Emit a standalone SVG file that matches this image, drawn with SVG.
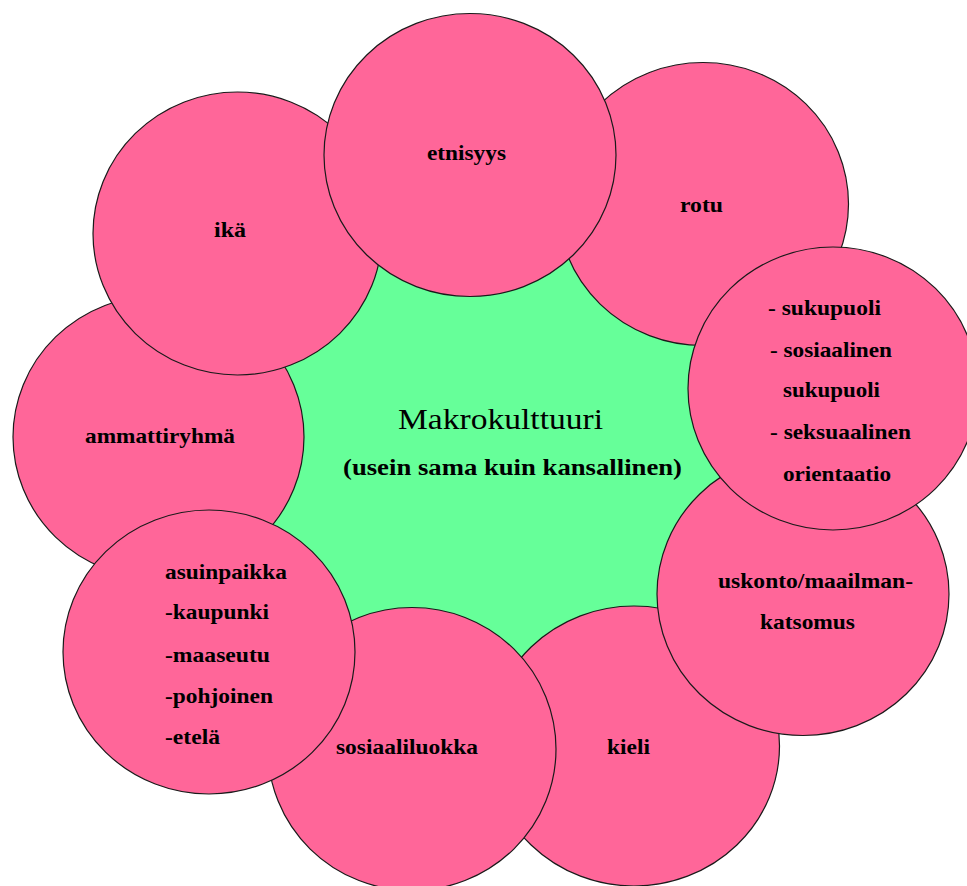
<svg xmlns="http://www.w3.org/2000/svg" width="967" height="886" viewBox="0 0 967 886">
<style>
.c{fill:#FF6699;stroke:#1a1a1a;stroke-width:1.2}
.t{font-family:"Liberation Serif","Times New Roman",serif;font-weight:bold;font-size:21px;fill:#000}
.m{font-family:"Liberation Serif","Times New Roman",serif;font-size:29px;fill:#000}
</style>
<rect width="967" height="886" fill="#fff"/>
<g id="center">
<polygon points="470,155 703,204 833,388 803,594 634,746 412,749 209,652 158,437 237,233" fill="#66FF99"/>
</g>
<g id="connectors"></g>
<g id="rotu"><ellipse class="c" cx="703" cy="204" rx="145.5" ry="141.5"/><text class="t" x="680" y="212" textLength="43" lengthAdjust="spacingAndGlyphs">rotu</text></g>
<g id="kieli"><ellipse class="c" cx="634" cy="746" rx="145.5" ry="140"/><text class="t" x="607" y="754" textLength="43" lengthAdjust="spacingAndGlyphs">kieli</text></g>
<g id="ammattiryhma"><ellipse class="c" cx="158.5" cy="437" rx="145.5" ry="141.5"/><text class="t" x="85" y="443" textLength="150" lengthAdjust="spacingAndGlyphs">ammattiryhmä</text></g>
<g id="ika"><ellipse class="c" cx="237.5" cy="233.5" rx="144.5" ry="141.5"/><text class="t" x="214" y="237" textLength="32" lengthAdjust="spacingAndGlyphs">ikä</text></g>
<g id="etnisyys"><ellipse class="c" cx="470" cy="155" rx="146" ry="141.5"/><text class="t" x="427" y="160" textLength="79" lengthAdjust="spacingAndGlyphs">etnisyys</text></g>
<g id="uskonto"><ellipse class="c" cx="803" cy="594" rx="146" ry="141.5"/>
<text class="t" x="718" y="588" textLength="195" lengthAdjust="spacingAndGlyphs">uskonto/maailman-</text>
<text class="t" x="760" y="629" textLength="95" lengthAdjust="spacingAndGlyphs">katsomus</text></g>
<g id="sukupuoli"><ellipse class="c" cx="833" cy="388.5" rx="145" ry="141.5"/>
<text class="t" x="768" y="315" textLength="113" lengthAdjust="spacingAndGlyphs">- sukupuoli</text>
<text class="t" x="770" y="357" textLength="122" lengthAdjust="spacingAndGlyphs">- sosiaalinen</text>
<text class="t" x="783" y="397" textLength="97" lengthAdjust="spacingAndGlyphs">sukupuoli</text>
<text class="t" x="770" y="439" textLength="141" lengthAdjust="spacingAndGlyphs">- seksuaalinen</text>
<text class="t" x="783" y="481" textLength="108" lengthAdjust="spacingAndGlyphs">orientaatio</text></g>
<g id="sosiaaliluokka"><ellipse class="c" cx="412" cy="749" rx="144" ry="141.5"/><text class="t" x="336" y="754" textLength="142" lengthAdjust="spacingAndGlyphs">sosiaaliluokka</text></g>
<g id="asuinpaikka"><ellipse class="c" cx="209" cy="652" rx="146" ry="142"/>
<text class="t" x="165" y="579" textLength="122" lengthAdjust="spacingAndGlyphs">asuinpaikka</text>
<text class="t" x="165" y="619" textLength="104" lengthAdjust="spacingAndGlyphs">-kaupunki</text>
<text class="t" x="165" y="662" textLength="105" lengthAdjust="spacingAndGlyphs">-maaseutu</text>
<text class="t" x="165" y="703" textLength="108" lengthAdjust="spacingAndGlyphs">-pohjoinen</text>
<text class="t" x="165" y="744" textLength="55" lengthAdjust="spacingAndGlyphs">-etelä</text></g>
<g id="makrokulttuuri">
<text class="m" x="398" y="429" textLength="205" lengthAdjust="spacingAndGlyphs">Makrokulttuuri</text>
<text class="t" x="343" y="475" textLength="339" lengthAdjust="spacingAndGlyphs" style="font-size:23px">(usein sama kuin kansallinen)</text>
</g>
</svg>
